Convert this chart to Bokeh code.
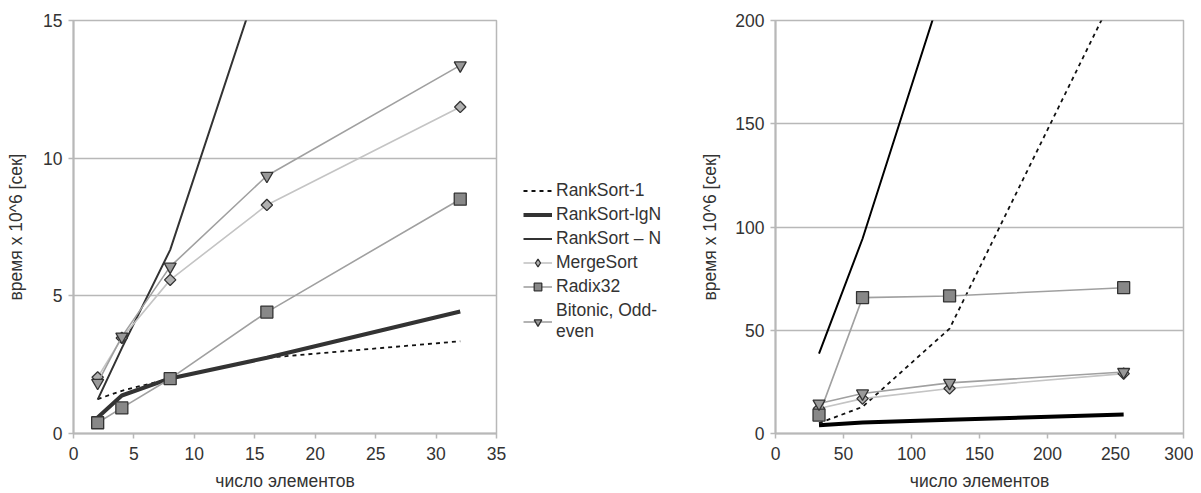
import math
from bokeh.plotting import figure
from bokeh.models import Range1d, Legend, LegendItem, FixedTicker
from bokeh.layouts import row
from bokeh.embed import file_html
from bokeh.resources import INLINE

# ---- data ----
left_x = [2, 4, 8, 16, 32]
rs1_left = [1.25, 1.55, 2.0, 2.75, 3.35]
lgn_left = [0.58, 1.38, 2.0, 2.75, 4.43]
rsn_left = [1.23, 3.1, 6.67, 17.3, 38.7]
merge_left = [2.04, 3.47, 5.58, 8.3, 11.86]
radix_left = [0.39, 0.93, 1.99, 4.41, 8.51]
bitonic_left = [1.84, 3.52, 6.06, 9.36, 13.37]

right_x = [32, 64, 128, 256]
rs1_right = [5.0, 12.9, 50.8, 222.0]
lgn_right = [4.0, 5.3, 6.7, 9.2]
rsn_right = [38.7, 94.3, 226.0, 500.0]
merge_right = [12.1, 16.9, 21.8, 29.0]
radix_right = [8.9, 65.8, 66.6, 70.6]
bitonic_right = [14.5, 19.4, 24.5, 29.8]

labels = ["RankSort-1", "RankSort-lgN", "RankSort \u2013 N", "MergeSort", "Radix32", "Bitonic, Odd-\neven"]
x_label = "число элементов"
y_label = "время x 10^6 [сек]"

FONT = "Liberation Sans"
GRID = "#b8b8b8"
TXT = "#333333"
FS = "17.5px"
H = 493


def style(p, xt, yt, ylab_standoff):
    p.xgrid.grid_line_color = None
    p.ygrid.grid_line_color = GRID
    p.ygrid.grid_line_width = 1.5
    p.outline_line_color = GRID
    p.outline_line_width = 1.5
    p.background_fill_color = "white"
    p.border_fill_color = "white"
    p.xaxis.ticker = FixedTicker(ticks=xt)
    p.yaxis.ticker = FixedTicker(ticks=yt)
    for ax in (p.xaxis[0], p.yaxis[0]):
        ax.axis_line_color = GRID
        ax.axis_line_width = 2
        ax.major_tick_line_color = GRID
        ax.major_tick_line_width = 1.5
        ax.major_tick_out = 5
        ax.major_tick_in = 0
        ax.minor_tick_line_color = None
        ax.major_label_text_font = FONT
        ax.major_label_text_font_size = FS
        ax.major_label_text_color = TXT
        ax.axis_label_text_font = FONT
        ax.axis_label_text_font_size = FS
        ax.axis_label_text_font_style = "normal"
        ax.axis_label_text_color = TXT
    p.xaxis.axis_label = x_label
    p.yaxis.axis_label = y_label
    p.xaxis.major_label_standoff = 8
    p.yaxis.major_label_standoff = 6
    p.xaxis.axis_label_standoff = 8
    p.yaxis.axis_label_standoff = ylab_standoff


def draw(p, xs, rs1, lgn, rsn, merge, radix, bitonic, dark, legend_fig=False):
    r = {}
    r[0] = [p.line(xs, rs1, line_color="#111111", line_width=1.8, line_dash="4 4")]
    r[1] = [p.line(xs, lgn, line_color=dark, line_width=4)]
    r[2] = [p.line(xs, rsn, line_color=dark, line_width=2)]
    l3 = p.line(xs, merge, line_color="#c4c4c4", line_width=1.6)
    if legend_fig:
        m3 = p.scatter(xs, merge, marker="diamond", size=14,
                       fill_color="#b0b0b0", line_color="#333333", line_width=1.3)
    else:
        m3 = p.scatter(xs, merge, marker="square", angle=math.pi / 4, size=8,
                       fill_color="#b0b0b0", line_color="#333333", line_width=1.3)
    r[3] = [l3, m3]
    l4 = p.line(xs, radix, line_color="#a0a0a0", line_width=1.6)
    m4 = p.scatter(xs, radix, marker="square", size=12, fill_color="#888888",
                   line_color="#333333", line_width=1.3)
    r[4] = [l4, m4]
    l5 = p.line(xs, bitonic, line_color="#a0a0a0", line_width=1.6)
    m5 = p.scatter(xs, bitonic, marker="inverted_triangle", size=12, fill_color="#999999",
                   line_color="#333333", line_width=1.3)
    r[5] = [l5, m5]
    return r


# ---- left figure ----
p1 = figure(width=506, height=H, output_backend="svg", toolbar_location=None,
            x_range=Range1d(0, 35), y_range=Range1d(0, 15),
            min_border_left=73, min_border_right=10, min_border_top=20, min_border_bottom=59)
style(p1, [0, 5, 10, 15, 20, 25, 30, 35], [0, 5, 10, 15], 14)
draw(p1, left_x, rs1_left, lgn_left, rsn_left, merge_left, radix_left, bitonic_left, "#333333")

# ---- legend figure ----
pl = figure(width=190, height=H, output_backend="svg", toolbar_location=None,
            x_range=Range1d(0, 1), y_range=Range1d(0, 1),
            min_border_left=0, min_border_right=0, min_border_top=0, min_border_bottom=0)
pl.axis.visible = False
pl.grid.grid_line_color = None
pl.outline_line_color = None
rl = draw(pl, [5, 6], [5, 6], [5, 6], [5, 6], [5, 6], [5, 6], [5, 6], "#333333", legend_fig=True)
legend = Legend(items=[LegendItem(label=labels[i], renderers=rl[i]) for i in range(6)],
                location=(17, 91))
legend.label_text_font = FONT
legend.label_text_font_size = FS
legend.label_text_color = TXT
legend.label_text_line_height = 1.15
legend.glyph_width = 29
legend.glyph_height = 19
legend.label_height = 19
legend.label_standoff = 4
legend.spacing = 3
legend.padding = 4
legend.border_line_color = None
legend.background_fill_alpha = 0
pl.add_layout(legend)

# ---- right figure ----
p2 = figure(width=497, height=H, output_backend="svg", toolbar_location=None,
            x_range=Range1d(0, 300), y_range=Range1d(0, 200),
            min_border_left=79, min_border_right=10, min_border_top=20, min_border_bottom=59)
style(p2, [0, 50, 100, 150, 200, 250, 300], [0, 50, 100, 150, 200], 12)
draw(p2, right_x, rs1_right, lgn_right, rsn_right, merge_right, radix_right, bitonic_right, "#000000")

layout = row(p1, pl, p2, spacing=0)
open("out.html", "w").write(file_html(layout, INLINE))
